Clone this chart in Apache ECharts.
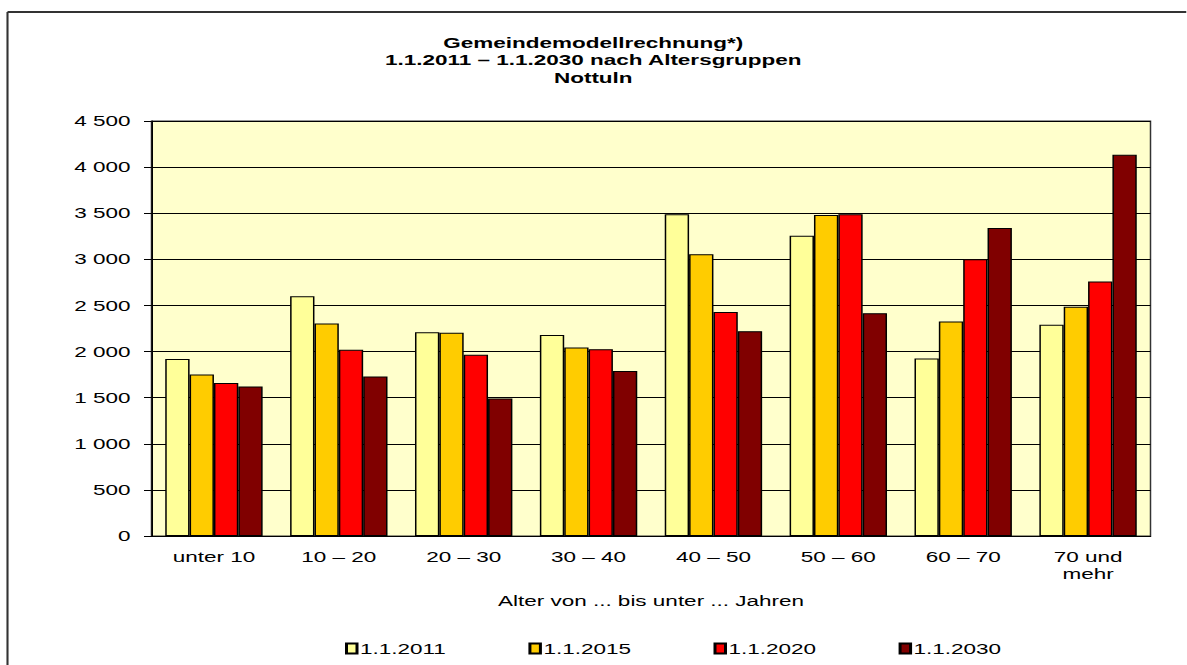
<!DOCTYPE html>
<html>
<head>
<meta charset="utf-8">
<script src="https://cdn.jsdelivr.net/npm/echarts@6/dist/echarts.min.js"></script>
<style>
  html, body { margin: 0; padding: 0; background: #fff; overflow: hidden; }
  /* the source chart is a horizontally stretched export, so draw narrow and stretch */
  #chart { width: 791px; height: 665px; transform: scaleX(1.5); transform-origin: 0 0; }
</style>
</head>
<body>
<div id="chart"></div>
<script>
// age groups
const categories = ['unter 10', '10 – 20', '20 – 30', '30 – 40', '40 – 50', '50 – 60', '60 – 70', '70 und\nmehr'];

// population per date
const v2011 = [1920, 2600, 2210, 2180, 3490, 3255, 1925, 2290];
const v2015 = [1750, 2305, 2205, 2045, 3055, 3480, 2325, 2485];
const v2020 = [1660, 2020, 1965, 2025, 2430, 3490, 3000, 2760];
const v2030 = [1620, 1730, 1490, 1790, 2220, 2415, 3340, 4135];

const seriesNames = ['1.1.2011', '1.1.2015', '1.1.2020', '1.1.2030'];
const colors = ['#FFFF99', '#FFCC00', '#FF0000', '#800000'];

const chart = echarts.init(document.getElementById('chart'), null, { renderer: 'svg' });

function fmt(v) {
    return String(v).replace(/\B(?=(\d{3})+(?!\d))/g, ' ');
}

const allValues = [v2011, v2015, v2020, v2030];

const option = {
    backgroundColor: '#fff',
    animation: false,
    textStyle: { fontFamily: '"Liberation Sans", Arial, sans-serif' },
    title: {
        text: 'Gemeindemodellrechnung*)\n1.1.2011 – 1.1.2030 nach Altersgruppen\nNottuln',
        left: 'center',
        top: 29,
        textStyle: {
            fontSize: 15,
            fontWeight: 'bold',
            color: '#000',
            lineHeight: 17.5,
            fontFamily: '"Liberation Sans", Arial, sans-serif'
        }
    },
    graphic: [
        { type: 'line', shape: { x1: 5, y1: 12, x2: 791, y2: 12 }, style: { stroke: '#333', lineWidth: 2 } },
        { type: 'line', shape: { x1: 5, y1: 12, x2: 5, y2: 665 }, style: { stroke: '#333', lineWidth: 1.4 } }
    ],
    legend: {
        bottom: 4,
        left: 225,
        itemWidth: 7,
        itemHeight: 10,
        itemGap: 55,
        icon: 'rect',
        textStyle: { fontSize: 15, color: '#000', padding: [0, 0, 0, -3] },
        data: seriesNames
    },
    grid: {
        left: 101,
        right: 24,
        top: 121,
        bottom: 129,
        show: true,
        backgroundColor: '#FFFFCC',
        borderColor: '#333',
        borderWidth: 1
    },
    xAxis: {
        type: 'category',
        data: categories,
        name: 'Alter von ... bis unter ... Jahren',
        nameLocation: 'middle',
        nameGap: 57,
        nameTextStyle: { fontSize: 15, color: '#000' },
        axisLine: { lineStyle: { color: '#000', width: 1 } },
        axisTick: { show: false },
        axisLabel: { fontSize: 15, color: '#000', margin: 12, lineHeight: 17 }
    },
    yAxis: {
        type: 'value',
        min: 0,
        max: 4500,
        interval: 500,
        axisLine: { show: true, lineStyle: { color: '#000', width: 1 } },
        axisTick: { show: true, length: 5, lineStyle: { color: '#000' } },
        axisLabel: { fontSize: 15, color: '#000', margin: 14, formatter: fmt },
        splitLine: { lineStyle: { color: '#000', width: 1 } }
    },
    series: seriesNames.map((name, i) => ({
        name: name,
        type: 'bar',
        data: allValues[i],
        barGap: '0%',
        barCategoryGap: '22%',
        itemStyle: { color: colors[i], borderColor: '#000', borderWidth: 1 }
    }))
};

chart.setOption(option);
</script>
</body>
</html>
